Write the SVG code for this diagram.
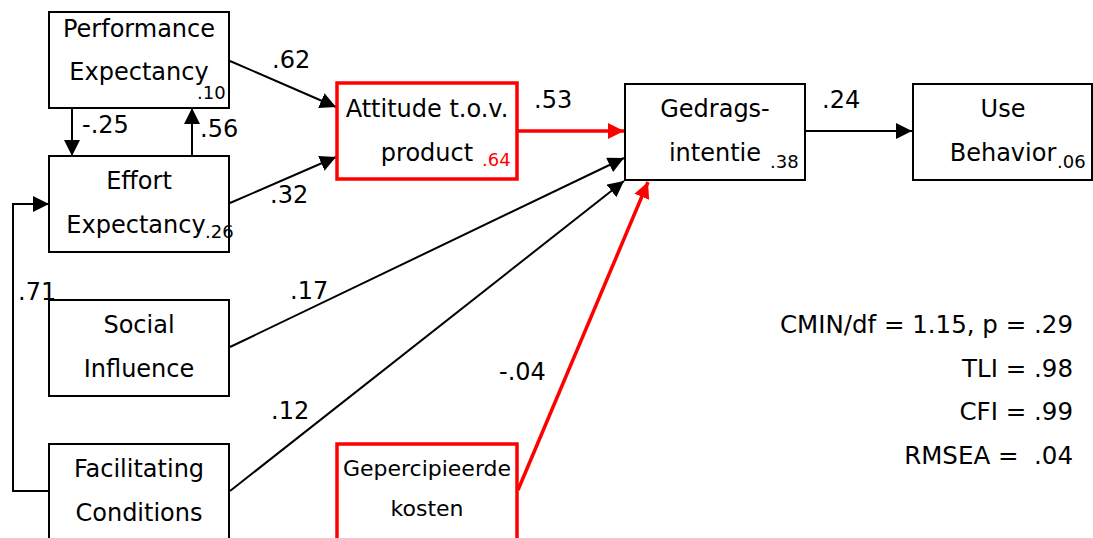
<svg xmlns="http://www.w3.org/2000/svg" width="1093" height="538" viewBox="0 0 1093 538">
<defs>
<marker id="ab" viewBox="0 0 10 10" refX="10" refY="5" markerWidth="16" markerHeight="16" markerUnits="userSpaceOnUse" orient="auto"><path d="M0,0 L10,5 L0,10 z" fill="#000"/></marker>
<marker id="ar" viewBox="0 0 10 10" refX="10" refY="5" markerWidth="16" markerHeight="16" markerUnits="userSpaceOnUse" orient="auto"><path d="M0,0 L10,5 L0,10 z" fill="#f00"/></marker>
</defs>
<style>
text{font-family:"DejaVu Sans","Verdana",sans-serif;font-size:24px;fill:#000}
.box{fill:#fff;stroke:#000;stroke-width:2}
.rbox{fill:#fff;stroke:#f00;stroke-width:3.5}
.c{stroke:#000;stroke-width:2;fill:none;marker-end:url(#ab)}
.cr{stroke:#f00;stroke-width:3.5;fill:none;marker-end:url(#ar)}
.m{text-anchor:middle}
.e{text-anchor:end;font-size:24.5px}
.s{font-size:18px}
</style>
<g id="connectors">
<line class="c" x1="230" y1="61" x2="336" y2="107"/>
<line class="c" x1="230" y1="203" x2="336" y2="157"/>
<line class="c" x1="72" y1="108" x2="72" y2="156"/>
<line class="c" x1="192" y1="156" x2="192" y2="108"/>
<polyline class="c" points="49,491 13,491 13,204 49,204"/>
<line class="cr" x1="518" y1="131" x2="624" y2="131"/>
<line class="c" x1="230" y1="347" x2="624" y2="158"/>
<line class="c" x1="230" y1="491" x2="624" y2="181"/>
<line class="cr" x1="518" y1="490" x2="648" y2="182"/>
<line class="c" x1="805" y1="131" x2="912" y2="131"/>
<text x="272" y="68">.62</text>
<text x="270" y="203">.32</text>
<text x="82" y="133">-.25</text>
<text x="200" y="137">.56</text>
<text x="18" y="300">.71</text>
<text x="534" y="108">.53</text>
<text x="822" y="108">.24</text>
<text x="290" y="299">.17</text>
<text x="271" y="419">.12</text>
<text x="499" y="380">-.04</text>
</g>
<g id="pe">
<rect class="box" x="49" y="12" width="180" height="96"/>
<text class="m" x="139" y="37">Performance</text>
<text class="m" x="139" y="80">Expectancy</text>
<text class="s" x="197" y="99">.10</text>
</g>
<g id="ee">
<rect class="box" x="49" y="156" width="180" height="96"/>
<text class="m" x="139" y="189">Effort</text>
<text class="m" x="136" y="233">Expectancy</text>
<text class="s" x="205" y="238">.26</text>
</g>
<g id="si">
<rect class="box" x="49" y="300" width="180" height="96"/>
<text class="m" x="139" y="333">Social</text>
<text class="m" x="139" y="377">Influence</text>
</g>
<g id="fc">
<rect class="box" x="49" y="444" width="180" height="100"/>
<text class="m" x="139" y="477">Facilitating</text>
<text class="m" x="139" y="521">Conditions</text>
</g>
<g id="att">
<rect class="rbox" x="337" y="83" width="180" height="96"/>
<text class="m" x="427" y="117">Attitude t.o.v.</text>
<text class="m" x="427" y="161">product</text>
<text class="s" x="482" y="166" style="fill:#f00">.64</text>
</g>
<g id="kosten">
<rect class="rbox" x="337" y="444" width="180" height="100"/>
<text class="m" x="427" y="476" style="font-size:22px">Gepercipieerde</text>
<text class="m" x="427" y="516" style="font-size:22px">kosten</text>
</g>
<g id="gi">
<rect class="box" x="625" y="84" width="180" height="96"/>
<text class="m" x="715" y="117">Gedrags-</text>
<text class="m" x="715" y="161">intentie</text>
<text class="s" x="770" y="168">.38</text>
</g>
<g id="ub">
<rect class="box" x="913" y="84" width="179" height="96"/>
<text class="m" x="1003" y="117">Use</text>
<text class="m" x="1003" y="161">Behavior</text>
<text class="s" x="1057" y="168">.06</text>
</g>
<g id="stats">
<text class="e" x="1073" y="333">CMIN/df = 1.15, p = .29</text>
<text class="e" x="1073" y="377">TLI = .98</text>
<text class="e" x="1073" y="420">CFI = .99</text>
<text class="e" x="1073" y="464">RMSEA =&#160; .04</text>
</g>
</svg>
